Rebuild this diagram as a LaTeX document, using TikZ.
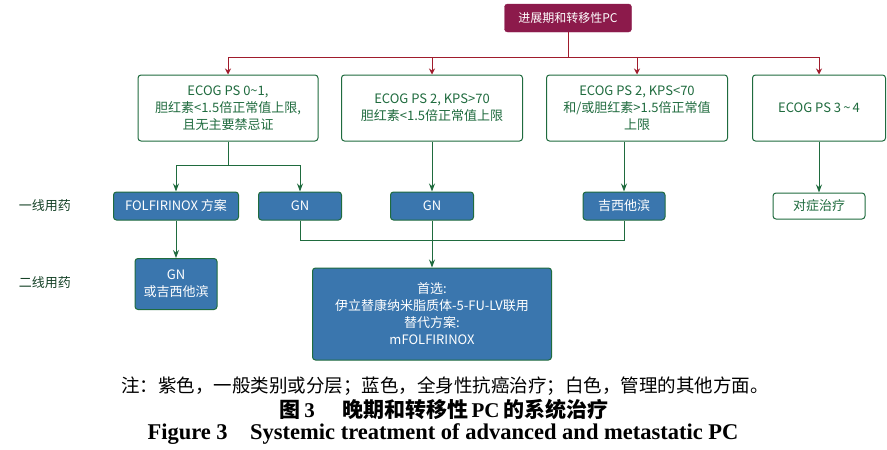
\documentclass[tikz,border=0pt]{standalone}
\usepackage{fontspec}
\usetikzlibrary{arrows.meta}
\setmainfont{Liberation Serif}
\newfontfamily\cjk{Noto Sans CJK SC}
\definecolor{pcpurple}{HTML}{8C1A4B}
\definecolor{pcred}{HTML}{A01C2C}
\definecolor{pcgreen}{HTML}{1F6B3E}
\definecolor{pcblue}{HTML}{3A76AE}
\tikzset{
  purplebox/.style={draw=pcpurple, fill=pcpurple, text=white, rounded corners=3pt, font=\cjk\fontsize{12}{13}\selectfont, inner sep=0pt},
  whitebox/.style={draw=pcgreen, line width=1pt, fill=white, text=pcgreen, rounded corners=3pt, align=center, font=\cjk\fontsize{13}{17}\selectfont, inner sep=0pt},
  bluebox/.style={draw=pcgreen, line width=1pt, fill=pcblue, text=white, rounded corners=3pt, align=center, font=\cjk\fontsize{13}{17}\selectfont, inner sep=0pt},
  redarrow/.style={draw=pcred, line width=1pt, -{Stealth[length=6pt,width=6pt]}},
  greenarrow/.style={draw=pcgreen, line width=1pt, -{Stealth[length=8pt,width=6pt]}},
  greenline/.style={draw=pcgreen, line width=1pt},
  rowlabel/.style={text=pcgreen!60!black, font=\cjk\fontsize{13}{15}\selectfont}
}
\begin{document}
\begin{tikzpicture}[x=1pt, y=-1pt]
  \useasboundingbox (0,0) rectangle (887,450);
  % top
  \node[purplebox, minimum width=127pt, minimum height=28pt] (top) at (568,18) {进展期和转移性PC};
  % first row
  \node[whitebox, minimum width=180pt, minimum height=66pt] (ps01) at (228,108) {ECOG PS 0\textasciitilde1,\\胆红素<1.5倍正常值上限,\\且无主要禁忌证};
  \node[whitebox, minimum width=181pt, minimum height=66pt] (ps2a) at (432,108) {ECOG PS 2, KPS>70\\胆红素<1.5倍正常值上限};
  \node[whitebox, minimum width=181pt, minimum height=66pt] (ps2b) at (637,108) {ECOG PS 2, KPS<70\\和/或胆红素>1.5倍正常值\\上限};
  \node[whitebox, minimum width=133pt, minimum height=66pt] (ps34) at (819,108) {ECOG PS 3\,\textasciitilde\,4};
  % first line
  \node[rowlabel] (line1) at (45,206) {一线用药};
  \node[bluebox, minimum width=125pt, minimum height=28pt] (folf) at (176,206) {FOLFIRINOX 方案};
  \node[bluebox, minimum width=83pt, minimum height=28pt] (gna) at (300,206) {GN};
  \node[bluebox, minimum width=83pt, minimum height=28pt] (gnb) at (432,206) {GN};
  \node[bluebox, minimum width=82pt, minimum height=28pt] (gem) at (624,206) {吉西他滨};
  \node[whitebox, minimum width=92pt, minimum height=26pt] (symp) at (819,206) {对症治疗};
  % second line
  \node[rowlabel] (line2) at (45,283) {二线用药};
  \node[bluebox, minimum width=82pt, minimum height=51pt] (gngem) at (176,284) {GN\\或吉西他滨};
  \node[bluebox, minimum width=239pt, minimum height=92pt] (pref) at (432,314) {首选:\\伊立替康纳米脂质体-5-FU-LV联用\\替代方案:\\mFOLFIRINOX};
  % red connectors
  \coordinate (rsplit) at (568,57);
  \draw[pcred, line width=1pt] (top.south) -- (rsplit);
  \draw[pcred, line width=1pt] (ps01.north |- rsplit) -- (ps34.north |- rsplit);
  \foreach \n in {ps01,ps2a,ps2b,ps34}
    \draw[redarrow] (\n.north |- rsplit) -- (\n.north);
  % green connectors
  \coordinate (gsplit) at (228,165);
  \draw[greenline] (ps01.south) -- (gsplit);
  \draw[greenline] (folf.north |- gsplit) -- (gna.north |- gsplit);
  \draw[greenarrow] (folf.north |- gsplit) -- (folf.north);
  \draw[greenarrow] (gna.north |- gsplit) -- (gna.north);
  \draw[greenarrow] (ps2a.south) -- (gnb.north);
  \draw[greenarrow] (ps2b.south -| gem.north) -- (gem.north);
  \draw[greenarrow] (ps34.south) -- (symp.north);
  \draw[greenarrow] (folf.south) -- (gngem.north);
  \coordinate (join) at (432,240);
  \draw[greenline] (gna.south) -- (gna.south |- join) -- (gem.south |- join) -- (gem.south);
  \draw[greenline] (gnb.south) -- (join);
  \draw[greenarrow] (join) -- (pref.north);
  % caption
  \node[font=\cjk\fontsize{18.5}{20}\selectfont] (note) at (445,386) {注：紫色，一般类别或分层；蓝色，全身性抗癌治疗；白色，管理的其他方面。};
  \node[font=\cjk\bfseries\fontsize{21}{22}\selectfont] (title) at (444,409) {图\,\textbf{\rmfamily 3}\hspace{1.3em}晚期和转移性\,\textbf{\rmfamily PC}\,的系统治疗};
  \node[font=\bfseries\fontsize{22.5}{23}\selectfont] (entitle) at (443,434) {Figure 3\quad Systemic treatment of advanced and metastatic PC};
\end{tikzpicture}
\end{document}
